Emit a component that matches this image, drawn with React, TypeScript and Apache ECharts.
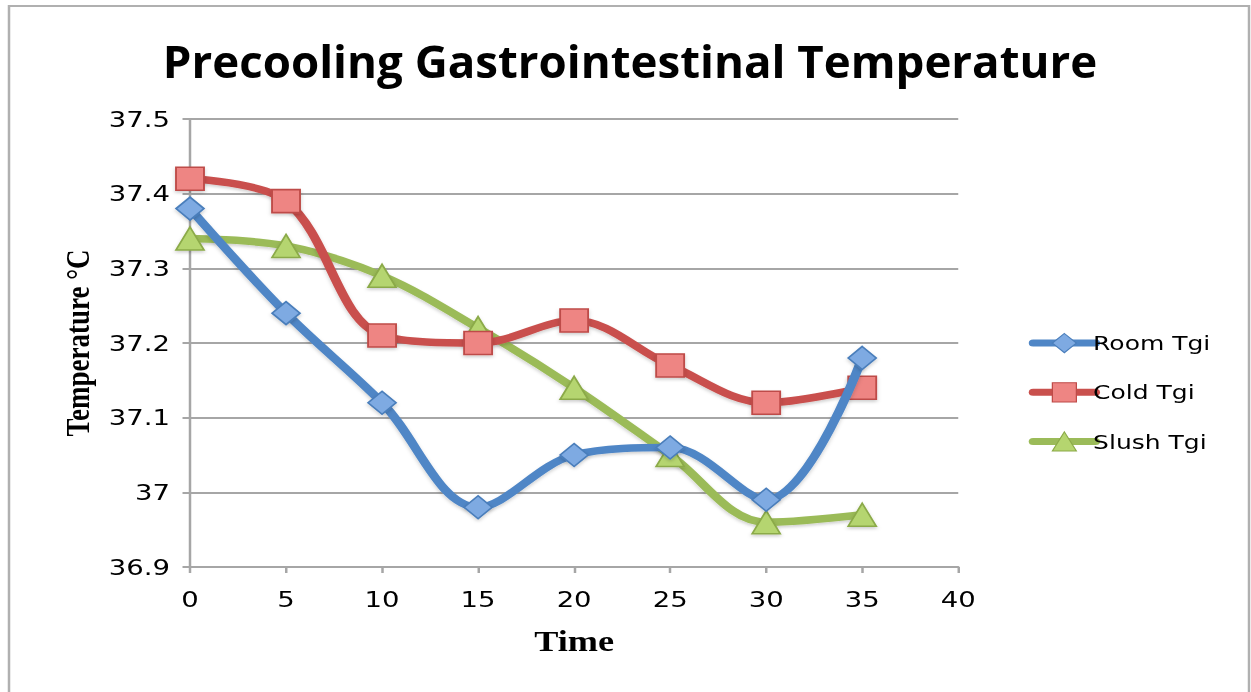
import React, { useEffect, useRef } from "react";
import * as echarts from "echarts";

const times = [0, 5, 10, 15, 20, 25, 30, 35];
const roomTgi = [37.38, 37.24, 37.12, 36.98, 37.05, 37.06, 36.99, 37.18];
const coldTgi = [37.42, 37.39, 37.21, 37.2, 37.23, 37.17, 37.12, 37.14];
const slushTgi = [37.34, 37.33, 37.29, 37.22, 37.14, 37.05, 36.96, 36.97];

const seriesNames = ["Room Tgi", "Cold Tgi", "Slush Tgi"];
const titleText = "Precooling Gastrointestinal Temperature";
const lineColors = ["#4F86C6", "#C9504D", "#9BBB59"];
const markerFills = ["#7EAAE2", "#EE8583", "#B5D56F"];
const markerBorders = ["#4A7EBB", "#BE4B48", "#8BAA48"];
const symbols = ["diamond", "rect", "triangle"];

// The chart is laid out on a narrower canvas and widened horizontally.
const STRETCH = 1.25;
const PAGE_W = 1251;
const PAGE_H = 692;
const W = PAGE_W / STRETCH;

const pair = (ys: number[]) => times.map((t, i) => [t, ys[i]]);

export default function App() {
  const ref = useRef<HTMLDivElement>(null);

  useEffect(() => {
    if (!ref.current) return;
    const chart = echarts.init(ref.current, undefined, { renderer: "svg" });
    const data = [roomTgi, coldTgi, slushTgi];
    chart.setOption({
      animation: false,
      backgroundColor: "#ffffff",
      legend: {
        orient: "vertical",
        left: 818,
        top: 328,
        itemWidth: 50,
        itemHeight: 24,
        itemGap: 29,
        lineStyle: { width: 7, cap: "round" },
        itemStyle: { borderWidth: 1 },
        textStyle: {
          fontFamily: "DejaVu Sans",
          fontSize: 20,
          color: "#000",
          padding: [0, 0, 0, -7],
        },
        data: seriesNames,
      },
      grid: { left: 152, right: W - 766.4, top: 119, bottom: 125, containLabel: false },
      xAxis: {
        type: "value",
        min: 0,
        max: 40,
        interval: 5,
        name: "Time",
        nameLocation: "middle",
        nameGap: 60,
        nameTextStyle: {
          fontFamily: "Liberation Serif",
          fontWeight: "bold",
          fontSize: 29,
          color: "#000",
        },
        axisLine: { lineStyle: { color: "#A6A6A6", width: 2 } },
        axisTick: { show: true, inside: false, length: 6, lineStyle: { color: "#A6A6A6", width: 2 } },
        splitLine: { show: false },
        axisLabel: {
          fontFamily: "DejaVu Sans",
          fontSize: 22,
          color: "#000",
          margin: 21,
        },
      },
      yAxis: {
        type: "value",
        min: 36.9,
        max: 37.5,
        interval: 0.1,
        name: "Temperature °C",
        nameLocation: "middle",
        nameGap: 76,
        nameRotate: 90,
        nameTextStyle: {
          fontFamily: "Liberation Serif",
          fontWeight: "bold",
          fontSize: 27,
          color: "#000",
        },
        axisLine: { show: true, lineStyle: { color: "#A6A6A6", width: 2 } },
        axisTick: { show: true, inside: false, length: 6, lineStyle: { color: "#A6A6A6", width: 2 } },
        splitLine: { show: true, lineStyle: { color: "#A6A6A6", width: 2 } },
        axisLabel: {
          fontFamily: "DejaVu Sans",
          fontSize: 22,
          color: "#000",
          margin: 16,
          formatter: (v: number) => String(parseFloat(v.toFixed(1))),
        },
      },
      graphic: [
        {
          type: "polyline",
          silent: true,
          shape: { points: [[7.2, PAGE_H], [7.2, 6], [W - 1.6, 6], [W - 1.6, PAGE_H]] },
          style: { stroke: "#B0B0B0", lineWidth: 2, fill: "none" },
        },
        {
          type: "text",
          silent: true,
          x: 504,
          y: 61,
          scaleX: 0.83,
          style: {
            text: titleText,
            textAlign: "center",
            textVerticalAlign: "middle",
            fontFamily: "Open Sans",
            fontWeight: "bold",
            fontSize: 44,
            fill: "#000",
          },
        },
      ],
      series: seriesNames.map((name, i) => ({
        name,
        type: "line",
        smooth: 0.35,
        data: pair(data[i]),
        symbol: symbols[i],
        symbolSize: [22.4, 23],
        showSymbol: true,
        lineStyle: {
          color: lineColors[i],
          width: 7.5,
          cap: "round",
          shadowColor: "rgba(0,0,0,0.18)",
          shadowBlur: 3,
          shadowOffsetY: 2,
        },
        itemStyle: {
          color: markerFills[i],
          borderColor: markerBorders[i],
          borderWidth: 1.5,
          shadowColor: "rgba(0,0,0,0.18)",
          shadowBlur: 3,
          shadowOffsetY: 2,
        },
        z: 2 + (2 - i),
      })),
    });
    return () => chart.dispose();
  }, []);

  return (
    <div
      ref={ref}
      style={{
        position: "fixed",
        left: 0,
        top: 0,
        width: W,
        height: PAGE_H,
        transform: `scaleX(${STRETCH})`,
        transformOrigin: "0 0",
      }}
    />
  );
}
